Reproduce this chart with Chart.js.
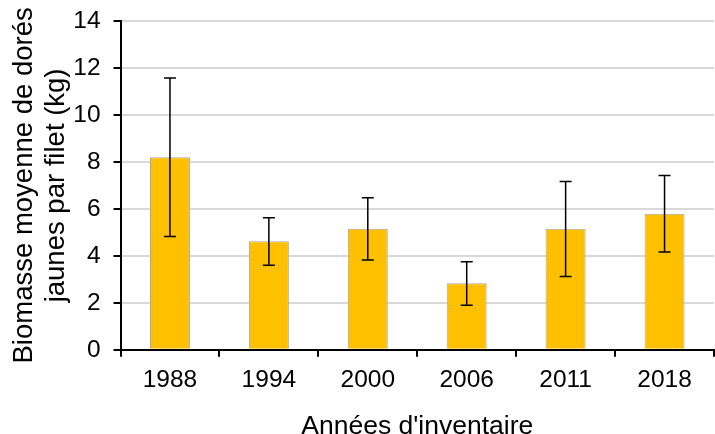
<!DOCTYPE html>
<html>
<head>
<meta charset="utf-8">
<script src="https://cdn.jsdelivr.net/npm/chart.js@4"></script>
<style>
html,body{margin:0;padding:0;background:#fff;}
#wrap{width:715px;height:434px;position:relative;}
</style>
</head>
<body>
<div id="wrap"><canvas id="c" width="715" height="434"></canvas></div>
<script>
const categories = ['1988', '1994', '2000', '2006', '2011', '2018'];
const biomass = [8.2, 4.62, 5.15, 2.83, 5.15, 5.79];
const errorHigh = [11.57, 5.62, 6.47, 3.75, 7.17, 7.42];
const errorLow = [4.82, 3.6, 3.82, 1.9, 3.12, 4.16];
const yTicks = [0, 2, 4, 6, 8, 10, 12, 14];

const errorBars = {
  id: 'errorBars',
  afterDatasetsDraw(chart) {
    const ctx = chart.ctx;
    const meta = chart.getDatasetMeta(0);
    const y = chart.scales.y;
    ctx.save();
    ctx.strokeStyle = '#000';
    ctx.lineWidth = 1.5;
    meta.data.forEach((bar, i) => {
      const x = bar.x;
      const yh = y.getPixelForValue(errorHigh[i]);
      const yl = y.getPixelForValue(errorLow[i]);
      const cap = 6;
      ctx.beginPath();
      ctx.moveTo(x, yh); ctx.lineTo(x, yl);
      ctx.moveTo(x - cap, yh); ctx.lineTo(x + cap, yh);
      ctx.moveTo(x - cap, yl); ctx.lineTo(x + cap, yl);
      ctx.stroke();
    });
    ctx.restore();
  }
};

new Chart(document.getElementById('c'), {
  type: 'bar',
  data: {
    labels: categories,
    datasets: [{
      data: biomass,
      backgroundColor: '#FFC000',
      borderColor: '#A6A6A6',
      borderWidth: 1,
      categoryPercentage: 1,
      barPercentage: 0.404
    }]
  },
  options: {
    responsive: false,
    animation: false,
    devicePixelRatio: 1,
    layout: { padding: { left: 0, right: 1, top: 21, bottom: -9 } },
    plugins: { legend: { display: false }, tooltip: { enabled: false } },
    scales: {
      x: {
        grid: { display: true, drawOnChartArea: false, drawTicks: true, tickLength: 7, tickColor: '#000', lineWidth: 2, offset: true },
        border: { color: '#000', width: 2 },
        ticks: { color: '#000', font: { family: 'Liberation Sans, Arial', size: 24.5 }, padding: 9 },
        title: { display: true, text: "Années d'inventaire", color: '#000', font: { family: 'Liberation Sans, Arial', size: 26.5 }, padding: { top: 7, bottom: 0 } }
      },
      y: {
        min: 0, max: 14,
        afterBuildTicks(scale) { scale.ticks = yTicks.map(v => ({ value: v })); },
        afterFit(scale) { scale.paddingTop = 0; },
        grid: { color: '#D9D9D9', lineWidth: 2, tickLength: 7, tickColor: '#000', drawTicks: true },
        border: { color: '#000', width: 2 },
        ticks: { color: '#000', font: { family: 'Liberation Sans, Arial', size: 24.5 }, padding: 13 },
        title: { display: true, text: ['Biomasse moyenne de dorés', 'jaunes par filet (kg)'], color: '#000', font: { family: 'Liberation Sans, Arial', size: 27.5, lineHeight: 1.15 }, padding: { top: 9, bottom: -12 } }
      }
    }
  },
  plugins: [errorBars]
});
</script>
</body>
</html>
